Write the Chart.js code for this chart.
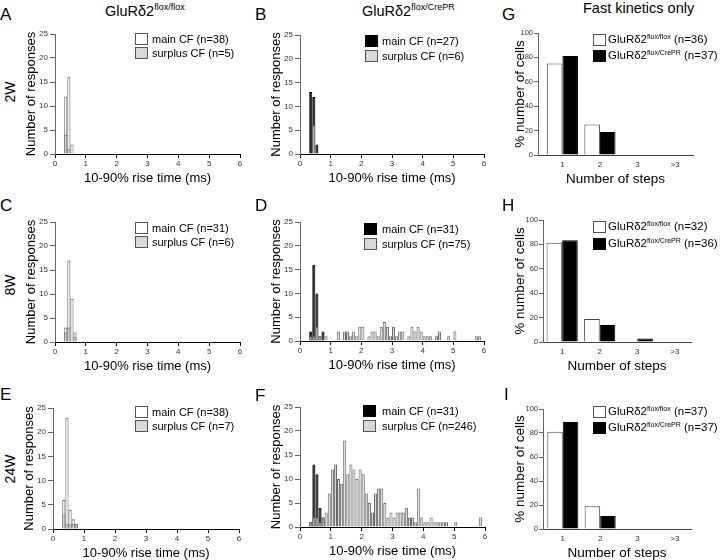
<!DOCTYPE html>
<html>
<head>
<meta charset="utf-8">
<script src="https://cdn.jsdelivr.net/npm/chart.js@4"></script>
<style>
  body { margin: 0; background: #fff; }
  #fig { position: relative; width: 720px; height: 560px; overflow: hidden;
         font-family: "Liberation Sans", Arial, sans-serif; color: #000; }
  canvas { position: absolute; }
  .t { position: absolute; white-space: nowrap; line-height: 1; }
  .box { position: absolute; box-sizing: border-box; border: 1px solid #555; width: 13px; height: 12px; }
  .rot { position: absolute; line-height: 1; font-size: 14px; transform: translate(-50%, -50%) rotate(-90deg); white-space: nowrap; }
  .ts { font-size: 9px; position: relative; top: -6px; }
  .ls { font-size: 7px; position: relative; top: -4px; }
</style>
</head>
<body>
<div id="fig">
  <canvas id="cA"></canvas><canvas id="cB"></canvas><canvas id="cG"></canvas>
  <canvas id="cC"></canvas><canvas id="cD"></canvas><canvas id="cH"></canvas>
  <canvas id="cE"></canvas><canvas id="cF"></canvas><canvas id="cI"></canvas>

  <!-- column titles -->
  <div class="t" style="left:105px;top:4px;font-size:14.5px">GluRδ2<span class="ts">flox/flox</span></div>
  <div class="t" style="left:362px;top:4px;font-size:14.5px">GluRδ2<span class="ts">flox/CrePR</span></div>
  <div class="t" style="left:583px;top:1px;font-size:14.5px">Fast kinetics only</div>

  <!-- panel letters -->
  <div class="t" style="left:0px;top:6px;font-size:17px">A</div>
  <div class="t" style="left:255px;top:6px;font-size:17px">B</div>
  <div class="t" style="left:502px;top:6px;font-size:17px">G</div>
  <div class="t" style="left:0px;top:197px;font-size:17px">C</div>
  <div class="t" style="left:255px;top:197px;font-size:17px">D</div>
  <div class="t" style="left:502px;top:197px;font-size:17px">H</div>
  <div class="t" style="left:0px;top:386px;font-size:17px">E</div>
  <div class="t" style="left:255px;top:387px;font-size:17px">F</div>
  <div class="t" style="left:504px;top:386px;font-size:17px">I</div>

  <!-- row labels -->
  <div class="rot" style="left:10px;top:92px">2W</div>
  <div class="rot" style="left:10px;top:285px">8W</div>
  <div class="rot" style="left:10px;top:469px">24W</div>

  <div id="legends"></div>
</div>

<script>
// ---- data: 10-90% rise time histograms, 0.1 ms bins starting at 0 ms ----
const BIN_MS = 0.1;
const riseMax = 6;

// 2W
const mainA    = [0, 0, 0, 12, 16, 2];
const surplusA = [0, 0, 0, 4, 1];
const mainB    = [0, 0, 0, 13, 12, 2];
const surplusB = [0, 0, 0, 0, 6];
// 8W
const mainC    = [0, 0, 0, 3, 17, 9, 2];
const surplusC = [0, 0, 0, 2, 3, 0, 1];
const mainD    = [0, 0, 0, 2, 16, 10, 1, 2];
const surplusD = [0, 0, 0, 1, 1, 3, 1, 0, 1, 0,
                  0, 0, 2, 0, 2, 2, 1, 2, 1, 3,
                  3, 0, 1, 2, 2, 1, 3, 4, 3, 1,
                  3, 1, 2, 2, 0, 1, 3, 2, 3, 2,
                  1, 1, 1, 0, 1, 2, 0, 0, 1, 0,
                  2, 0, 0, 0, 0, 0, 0, 1, 1];
// 24W
const mainE    = [0, 0, 0, 6, 23, 4, 2, 1];
const surplusE = [0, 0, 0, 3, 1, 1, 1, 1];
const mainF    = [0, 0, 0, 1, 13, 11, 4, 2];
const surplusF = [0, 0, 0, 1, 2, 2, 1, 2, 3, 7,
                  12, 13, 10, 9, 18, 11, 13, 12, 10, 12,
                  11, 7, 5, 3, 7, 8, 8, 5, 2, 3,
                  2, 3, 3, 3, 4, 2, 2, 1, 8, 2,
                  1, 1, 2, 1, 1, 1, 1, 1, 0, 0,
                  1, 0, 0, 0, 0, 0, 0, 0, 2];

// ---- data: number of CF steps, % of cells ----
const stepCats = ['1', '2', '3', '>3'];
const floxG = [75.0, 25.0, 0, 0];
const creG  = [81.1, 18.9, 0, 0];
const floxH = [81.3, 18.8, 0, 0];
const creH  = [83.3, 13.9, 2.8, 0];
const floxI = [81.1, 18.9, 0, 0];
const creI  = [89.2, 10.8, 0, 0];

const FONT = '"Liberation Sans", Arial, sans-serif';
const GRAY = '#d9d9d9';
const EDGE = '#555';
const TICK = '#333';

function place(cv, left, top, w, h) {
    cv.width = w; cv.height = h;
    cv.style.left = left + 'px';
    cv.style.top = top + 'px';
}

// histogram panel; g = pixel frame of the plot area
function histChart(id, g, main, surplus, mainFill) {
    const L = 31, T = 8, R = 10, B = 32;
    const cv = document.getElementById(id);
    place(cv, g.ax - L, g.yt - T, L + (g.ar - g.ax) + R, T + (g.yb - g.yt) + B);
    const pts = arr => arr.map((c, i) => ({ x: (i + 0.5) * BIN_MS, y: c }));

    new Chart(cv, {
        type: 'bar',
        data: {
            datasets: [
                { label: 'surplus CF', data: pts(surplus), backgroundColor: GRAY, borderColor: '#6a6a6a', borderWidth: 1 },
                { label: 'main CF', data: pts(main), backgroundColor: mainFill,
                  borderColor: mainFill === '#000' ? '#000' : EDGE, borderWidth: 1 }
            ]
        },
        options: {
            responsive: false,
            animation: false,
            layout: { padding: { top: T, right: R, left: 0, bottom: 0 } },
            plugins: { legend: { display: false }, tooltip: { enabled: false } },
            datasets: { bar: { grouped: false, barPercentage: 1, categoryPercentage: 1, inflateAmount: 0 } },
            scales: {
                x: {
                    type: 'linear', min: 0, max: riseMax, offset: false, z: 1,
                    ticks: { stepSize: 1, padding: 1, color: TICK, font: { family: FONT, size: 8 } },
                    grid: { drawOnChartArea: false, offset: false, tickLength: 4, color: '#000' },
                    border: { color: '#000', width: 1 },
                    title: { display: true, text: '10-90% rise time (ms)', color: '#000', padding: 0,
                             font: { family: FONT, size: 13 } },
                    afterFit: s => { s.height = B; }
                },
                y: {
                    min: 0, max: 25,
                    ticks: { stepSize: 5, padding: 2, color: TICK, font: { family: FONT, size: 8 } },
                    grid: { drawOnChartArea: false, tickLength: 5, color: '#666' },
                    border: { color: '#666', width: 1 },
                    title: { display: true, text: 'Number of responses', color: '#000', padding: 0,
                             font: { family: FONT, size: 13 } },
                    afterFit: s => { s.width = L; }
                }
            }
        }
    });
}

// step-count bar panel
function stepChart(id, g, flox, cre) {
    const L = g.ax - 520 + 8, T = 8, R = 6, B = 32;
    const cv = document.getElementById(id);
    place(cv, g.ax - L, g.yt - T, L + (g.ar - g.ax) + R, T + (g.yb - g.yt) + B);
    const pts = arr => arr.map((v, i) => ({ x: i + 1, y: v }));

    new Chart(cv, {
        type: 'bar',
        data: {
            datasets: [
                { label: 'GluRδ2 flox/flox', data: pts(flox), backgroundColor: '#fff', borderColor: '#444', borderWidth: 1 },
                { label: 'GluRδ2 flox/CrePR', data: pts(cre), backgroundColor: '#000', borderColor: '#000', borderWidth: 1 }
            ]
        },
        options: {
            responsive: false,
            animation: false,
            layout: { padding: { top: T, right: R, left: 0, bottom: 0 } },
            plugins: { legend: { display: false }, tooltip: { enabled: false } },
            datasets: { bar: { categoryPercentage: 0.83, barPercentage: 1, inflateAmount: 0 } },
            scales: {
                x: {
                    type: 'linear', min: g.xmin, max: g.xmax, offset: false, z: 1,
                    afterBuildTicks: s => { s.ticks = stepCats.map((c, i) => ({ value: i + 1 })); },
                    ticks: { padding: 5, color: TICK, font: { family: FONT, size: 8 },
                             callback: v => stepCats[v - 1] },
                    grid: { display: false, drawTicks: false, tickLength: 0, offset: false },
                    border: { color: '#444', width: 1 },
                    title: { display: true, text: 'Number of steps', color: '#000', padding: 0,
                             font: { family: FONT, size: 13.5 } },
                    afterFit: s => { s.height = B; }
                },
                y: {
                    min: 0, max: 100,
                    ticks: { stepSize: 20, padding: 1, color: TICK, font: { family: FONT, size: 7.5 } },
                    grid: { drawOnChartArea: false, tickLength: 4, color: '#666' },
                    border: { color: '#666', width: 1 },
                    title: { display: true, text: '% number of cells', color: '#000', padding: 0,
                             font: { family: FONT, size: 13.5 } },
                    afterFit: s => { s.width = L; }
                }
            }
        }
    });
}

histChart('cA', { ax: 55,  ar: 240, yb: 154, yt: 34 },  mainA, surplusA, '#fff');
histChart('cB', { ax: 300, ar: 484, yb: 154, yt: 35 },  mainB, surplusB, '#000');
histChart('cC', { ax: 55,  ar: 240, yb: 342, yt: 222 }, mainC, surplusC, '#fff');
histChart('cD', { ax: 300, ar: 484, yb: 341, yt: 222 }, mainD, surplusD, '#000');
histChart('cE', { ax: 53,  ar: 239, yb: 529, yt: 408 }, mainE, surplusE, '#fff');
histChart('cF', { ax: 300, ar: 485, yb: 527, yt: 407 }, mainF, surplusF, '#000');

stepChart('cG', { ax: 538, ar: 693, yb: 155, yt: 33,  xmin: 0.35, xmax: 4.48 }, floxG, creG);
stepChart('cH', { ax: 543, ar: 691, yb: 342, yt: 220, xmin: 0.49, xmax: 4.43 }, floxH, creH);
stepChart('cI', { ax: 543, ar: 691, yb: 529, yt: 409, xmin: 0.47, xmax: 4.43 }, floxI, creI);

// ---- legends (HTML text) ----
const legendHost = document.getElementById('legends');
function legend(boxX, textX, centers, entries, size) {
    entries.forEach((e, i) => {
        const b = document.createElement('div');
        b.className = 'box';
        b.style.left = boxX + 'px';
        b.style.top = (centers[i] - 6) + 'px';
        b.style.background = e.fill;
        if (e.fill === '#000') b.style.borderColor = '#000';
        legendHost.appendChild(b);
        const t = document.createElement('div');
        t.className = 't';
        t.style.left = textX + 'px';
        t.style.top = (centers[i] - size * 0.5) + 'px';
        t.style.fontSize = size + 'px';
        t.innerHTML = e.text;
        legendHost.appendChild(t);
    });
}
legend(135, 152, [39, 53],   [{ fill: '#fff', text: 'main CF (n=38)' }, { fill: GRAY, text: 'surplus CF (n=5)' }], 11);
legend(365, 382, [41, 56],   [{ fill: '#000', text: 'main CF (n=27)' }, { fill: GRAY, text: 'surplus CF (n=6)' }], 11);
legend(135, 152, [228, 242], [{ fill: '#fff', text: 'main CF (n=31)' }, { fill: GRAY, text: 'surplus CF (n=6)' }], 11);
legend(364, 382, [229, 244], [{ fill: '#000', text: 'main CF (n=31)' }, { fill: GRAY, text: 'surplus CF (n=75)' }], 11);
legend(135, 152, [412, 426], [{ fill: '#fff', text: 'main CF (n=38)' }, { fill: GRAY, text: 'surplus CF (n=7)' }], 11);
legend(363, 382, [411, 426], [{ fill: '#000', text: 'main CF (n=31)' }, { fill: GRAY, text: 'surplus CF (n=246)' }], 11);

const flox = n => 'GluRδ2<span class="ls">flox/flox</span> (n=' + n + ')';
const cre  = n => 'GluRδ2<span class="ls">flox/CrePR</span> (n=' + n + ')';
legend(593, 608, [40, 56],   [{ fill: '#fff', text: flox(36) }, { fill: '#000', text: cre(37) }], 11.5);
legend(593, 608, [227, 244], [{ fill: '#fff', text: flox(32) }, { fill: '#000', text: cre(36) }], 11.5);
legend(593, 608, [412, 428], [{ fill: '#fff', text: flox(37) }, { fill: '#000', text: cre(37) }], 11.5);
</script>
</body>
</html>
